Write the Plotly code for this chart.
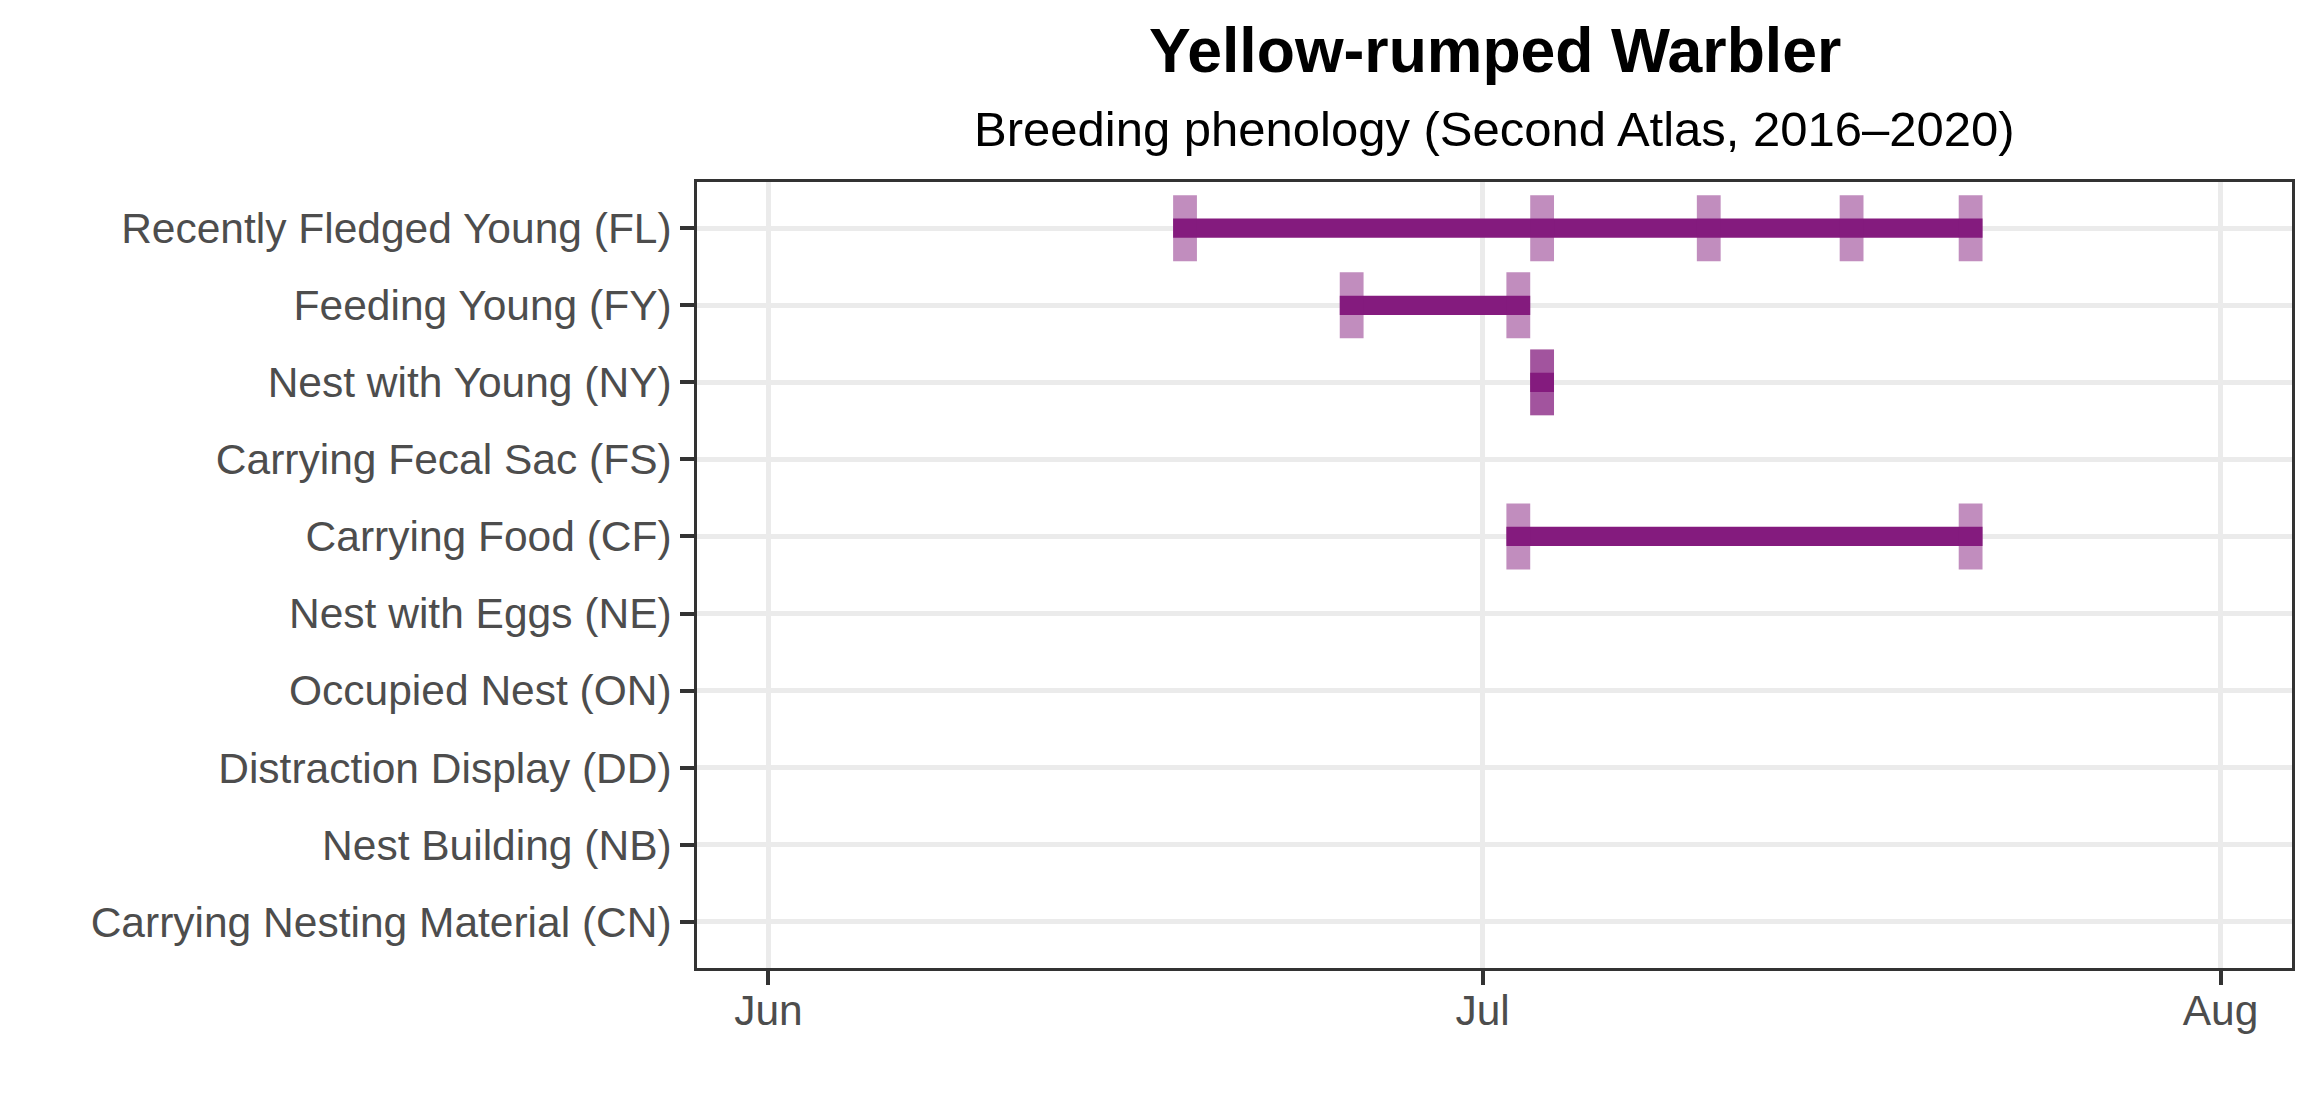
import plotly.graph_objects as go
from datetime import datetime

# ---- data ----
behaviors = [
    "Recently Fledged Young (FL)",
    "Feeding Young (FY)",
    "Nest with Young (NY)",
    "Carrying Fecal Sac (FS)",
    "Carrying Food (CF)",
    "Nest with Eggs (NE)",
    "Occupied Nest (ON)",
    "Distraction Display (DD)",
    "Nest Building (NB)",
    "Carrying Nesting Material (CN)",
]
fl_dates = ["2020-06-18", "2020-07-03", "2020-07-10", "2020-07-16", "2020-07-21"]
fy_dates = ["2020-06-25", "2020-07-02"]
ny_dates = ["2020-07-03", "2020-07-03"]
cf_dates = ["2020-07-02", "2020-07-21"]

tick_vals = ["2020-06-01", "2020-07-01", "2020-08-01"]
tick_text = ["Jun", "Jul", "Aug"]
x_range = ["2020-05-29", "2020-08-04"]

title_text = "Yellow-rumped Warbler"
subtitle_text = "Breeding phenology (Second Atlas, 2016\u20132020)"

observations = [
    (behaviors[0], fl_dates),
    (behaviors[1], fy_dates),
    (behaviors[2], ny_dates),
    (behaviors[4], cf_dates),
]

DAY_MS = 86400000
BAR_COLOR = "rgb(132,27,126)"
TICK_COLOR = "rgba(132,27,126,0.5)"
FONT = "Liberation Sans, Arial, sans-serif"

# ---- geometry (pixels); page body has an 8px default margin ----
OFF = 8
W, H = 2320 - OFF, 1120 - OFF
M_L, M_R, M_T, M_B = 697 - OFF, 28, 182 - OFF, 152
plot_h = H - M_T - M_B


def paper_y(ypix_page):
    # convert a page pixel y to paper coordinates
    return (1120 - M_B - ypix_page) / plot_h


fig = go.Figure()

# range bars
bar_y, bar_base, bar_len = [], [], []
for beh, dates in observations:
    ds = [datetime.fromisoformat(d) for d in dates]
    start, end = min(ds), max(ds)
    bar_y.append(beh)
    bar_base.append(start.strftime("%Y-%m-%d"))
    bar_len.append(((end - start).days + 1) * DAY_MS)

fig.add_trace(go.Bar(
    y=bar_y, base=bar_base, x=bar_len, orientation="h",
    width=0.25, marker=dict(color=BAR_COLOR, line=dict(width=0)),
    hoverinfo="skip", showlegend=False,
))

# observation ticks
t_y, t_base, t_len = [], [], []
for beh, dates in observations:
    for d in dates:
        t_y.append(beh)
        t_base.append(d)
        t_len.append(DAY_MS)

fig.add_trace(go.Bar(
    y=t_y, base=t_base, x=t_len, orientation="h",
    width=0.855, marker=dict(color=TICK_COLOR, line=dict(width=0)),
    hoverinfo="skip", showlegend=False,
))

fig.update_layout(
    width=W, height=H,
    margin=dict(l=M_L, r=M_R, t=M_T, b=M_B, autoexpand=False),
    paper_bgcolor="white", plot_bgcolor="white",
    barmode="overlay",
    font=dict(family=FONT, color="#4D4D4D", size=42.5),
    annotations=[
        dict(text="<b>" + title_text + "</b>", x=0.5, xref="paper",
             y=paper_y(50), yref="paper", yanchor="middle", xanchor="center",
             showarrow=False, font=dict(family=FONT, size=62.5, color="black")),
        dict(text=subtitle_text, x=0.5, xref="paper",
             y=paper_y(129), yref="paper", yanchor="middle", xanchor="center",
             showarrow=False, font=dict(family=FONT, size=49, color="black")),
    ],
)

fig.update_xaxes(
    type="date", range=x_range,
    tickvals=tick_vals, ticktext=tick_text,
    showgrid=True, gridcolor="#EBEBEB", gridwidth=4.5,
    showline=True, linecolor="#333333", linewidth=2.7, mirror=True,
    ticks="outside", ticklen=14, tickwidth=3.8, tickcolor="#333333",
    tickfont=dict(family=FONT, size=42.5, color="#4D4D4D"),
    ticklabelstandoff=-11,
    zeroline=False, fixedrange=True,
)
fig.update_yaxes(
    type="category", categoryorder="array", categoryarray=behaviors,
    range=[len(behaviors) - 1 + 0.6, -0.6],
    showgrid=True, gridcolor="#EBEBEB", gridwidth=4.5,
    showline=True, linecolor="#333333", linewidth=2.7, mirror=True,
    ticks="outside", ticklen=14, tickwidth=3.8, tickcolor="#333333",
    tickfont=dict(family=FONT, size=42.5, color="#4D4D4D"),
    zeroline=False, fixedrange=True,
)

fig.write_html("out.html")
